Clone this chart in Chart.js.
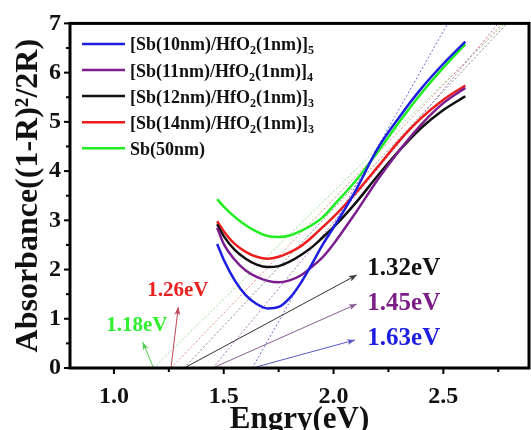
<!DOCTYPE html>
<html>
<head>
<meta charset="utf-8">
<script src="https://cdn.jsdelivr.net/npm/chart.js@4"></script>
<style>
  html, body { margin: 0; padding: 0; background: #fff; }
  #wrap { width: 531px; height: 430px; }
</style>
</head>
<body>
<div id="wrap"><canvas id="chart"></canvas></div>
<script>
// photon energy (eV) shared by all spectra
const energy = [1.47, 1.5, 1.55, 1.6, 1.65, 1.7, 1.75, 1.8, 1.85, 1.9, 1.95, 2.0, 2.1, 2.2, 2.3, 2.4, 2.5, 2.6];

// Kubelka-Munk absorbance (1-R)^2/2R
const sb10 = [2.52, 2.2, 1.78, 1.48, 1.3, 1.21, 1.24, 1.42, 1.72, 2.1, 2.5, 2.85, 3.6, 4.45, 5.1, 5.68, 6.18, 6.63];
const sb11 = [2.85, 2.52, 2.2, 1.98, 1.85, 1.77, 1.74, 1.78, 1.88, 2.05, 2.25, 2.52, 3.15, 3.82, 4.42, 4.95, 5.38, 5.69];
const sb12 = [2.92, 2.68, 2.4, 2.22, 2.1, 2.05, 2.07, 2.16, 2.29, 2.45, 2.65, 2.86, 3.35, 3.9, 4.42, 4.88, 5.24, 5.52];
const sb14 = [2.98, 2.78, 2.52, 2.36, 2.26, 2.22, 2.26, 2.35, 2.47, 2.65, 2.86, 3.07, 3.55, 4.08, 4.62, 5.08, 5.45, 5.74];
const sb50 = [3.43, 3.28, 3.07, 2.9, 2.77, 2.68, 2.66, 2.69, 2.78, 2.9, 3.06, 3.3, 3.8, 4.38, 5.0, 5.58, 6.1, 6.58];

const seriesNames = [
  '[Sb(10nm)/HfO_2(1nm)]_5',
  '[Sb(11nm)/HfO_2(1nm)]_4',
  '[Sb(12nm)/HfO_2(1nm)]_3',
  '[Sb(14nm)/HfO_2(1nm)]_3',
  'Sb(50nm)'
];
const seriesColors = ['#1e1ee0', '#7b1f8e', '#111111', '#ee1d1d', '#20ee20'];

// band gaps from linear extrapolation, and where each fit line leaves the top of the plot
const gaps      = [1.63, 1.45, 1.32, 1.26, 1.18];
const fitTopX   = [2.52, 2.75, 2.79, 2.77, 2.78];
const fitColors = ['#6a6ad4', '#a878b8', '#8a8a8a', '#e88a8a', '#90e090'];

// arrow tips and label anchors (data units)
const arrowTipX = [2.098, 2.106, 2.106, 1.293, 1.131];
const arrowTipY = [0.57, 1.30, 1.89, 1.24, 0.53];
const arrowColors = ['#5a5ac8', '#8a5c94', '#333333', '#c04858', '#55cc55'];
const labelX = [2.32, 2.32, 2.32, 1.291, 1.104];
const labelY = [0.59, 1.31, 2.02, 1.57, 0.86];
const labelColors = ['#1e1ee0', '#7b1f86', '#111111', '#e82020', '#30ee30'];

const xTicks = [1.0, 1.5, 2.0, 2.5];
const xMinor = [1.25, 1.75, 2.25, 2.75];
const yTicks = [0, 1, 2, 3, 4, 5, 6, 7];
const yMinor = [0.5, 1.5, 2.5, 3.5, 4.5, 5.5, 6.5];

const SERIF = '"Liberation Serif", "Times New Roman", serif';

const datasets = [];
[sb10, sb11, sb12, sb14, sb50].forEach((s, i) => {
  datasets.push({
    label: seriesNames[i],
    data: energy.map((x, j) => ({ x, y: s[j] })),
    borderColor: seriesColors[i],
    borderWidth: 2.5,
    pointRadius: 0,
    cubicInterpolationMode: 'monotone',
    order: 1
  });
});
gaps.forEach((g, i) => {
  datasets.push({
    label: 'fit' + i,
    data: [{ x: g, y: 0 }, { x: fitTopX[i], y: 7 }],
    borderColor: fitColors[i],
    borderWidth: 1,
    borderDash: [2, 2],
    pointRadius: 0,
    order: 3
  });
  datasets.push({
    label: 'arrow' + i,
    data: [{ x: g, y: 0 }, { x: arrowTipX[i], y: arrowTipY[i] }],
    borderColor: arrowColors[i],
    borderWidth: 1,
    pointRadius: 0,
    order: 2
  });
});

// thick frame plus outward tick marks
const framePlugin = {
  id: 'frame',
  afterDraw(chart) {
    const { ctx, chartArea: a, scales: { x, y } } = chart;
    ctx.save();
    ctx.strokeStyle = '#000';
    ctx.lineWidth = 2;
    const tick = (x1, y1, x2, y2) => { ctx.beginPath(); ctx.moveTo(x1, y1); ctx.lineTo(x2, y2); ctx.stroke(); };
    xTicks.forEach(v => { const p = x.getPixelForValue(v); tick(p, a.bottom, p, a.bottom + 6); });
    xMinor.forEach(v => { const p = x.getPixelForValue(v); tick(p, a.bottom, p, a.bottom + 4); });
    yTicks.forEach(v => { const p = y.getPixelForValue(v); tick(a.left, p, a.left - 6, p); });
    yMinor.forEach(v => { const p = y.getPixelForValue(v); tick(a.left, p, a.left - 4, p); });
    ctx.lineWidth = 3;
    ctx.strokeRect(a.left, a.top, a.right - a.left, a.bottom - a.top);
    ctx.restore();
  }
};

// arrowheads and band-gap labels
const gapPlugin = {
  id: 'gapLabels',
  afterDatasetsDraw(chart) {
    const { ctx, scales: { x, y } } = chart;
    ctx.save();
    gaps.forEach((g, i) => {
      const x0 = x.getPixelForValue(g), y0 = y.getPixelForValue(0);
      const x1 = x.getPixelForValue(arrowTipX[i]), y1 = y.getPixelForValue(arrowTipY[i]);
      const ang = Math.atan2(y1 - y0, x1 - x0);
      ctx.save();
      ctx.translate(x1, y1);
      ctx.rotate(ang);
      ctx.fillStyle = arrowColors[i];
      ctx.beginPath();
      ctx.moveTo(0, 0);
      ctx.lineTo(-8, -3);
      ctx.lineTo(-6, 0);
      ctx.lineTo(-8, 3);
      ctx.closePath();
      ctx.fill();
      ctx.restore();

      const size = i < 3 ? 25 : 21;
      ctx.font = `bold ${size}px ${SERIF}`;
      ctx.fillStyle = labelColors[i];
      ctx.textAlign = 'center';
      ctx.textBaseline = 'middle';
      ctx.fillText(g.toFixed(2) + 'eV', x.getPixelForValue(labelX[i]), y.getPixelForValue(labelY[i]));
    });
    ctx.restore();
  }
};

// legend with subscripted formula text
const legendPlugin = {
  id: 'subLegend',
  afterDraw(chart) {
    const { ctx, chartArea: a } = chart;
    ctx.save();
    seriesNames.forEach((name, i) => {
      const cy = a.top + 20.5 + i * 26.1;
      ctx.strokeStyle = seriesColors[i];
      ctx.lineWidth = 2.5;
      ctx.beginPath();
      ctx.moveTo(a.left + 12, cy);
      ctx.lineTo(a.left + 55, cy);
      ctx.stroke();

      let tx = a.left + 60;
      ctx.fillStyle = '#111';
      ctx.textBaseline = 'alphabetic';
      ctx.textAlign = 'left';
      name.split(/_(\d)/).forEach((part, k) => {
        if (!part) return;
        const sub = k % 2 === 1;
        ctx.font = sub ? `bold 12px ${SERIF}` : `bold 18px ${SERIF}`;
        ctx.fillText(part, tx, cy + (sub ? 10.5 : 6.5));
        tx += ctx.measureText(part).width;
      });
    });
    ctx.restore();
  }
};

new Chart(document.getElementById('chart'), {
  type: 'line',
  data: { datasets },
  options: {
    responsive: true,
    maintainAspectRatio: false,
    animation: false,
    layout: { padding: { top: 23, right: 2, left: 0, bottom: 0 } },
    plugins: {
      legend: { display: false },
      tooltip: { enabled: false }
    },
    scales: {
      x: {
        type: 'linear',
        min: 0.8,
        max: 2.89,
        afterBuildTicks: s => { s.ticks = xTicks.map(v => ({ value: v })); },
        afterFit: s => { s.height = 62; },
        grid: { display: false, drawTicks: false },
        border: { display: false },
        ticks: {
          padding: 14,
          color: '#111',
          font: { family: SERIF, size: 24, weight: 'bold' },
          callback: v => v.toFixed(1)
        },
        title: {
          display: true,
          text: 'Engry(eV)',
          color: '#111',
          font: { family: SERIF, size: 31, weight: 'bold' },
          padding: { top: 0, bottom: -9 }
        }
      },
      y: {
        min: 0,
        max: 7,
        afterBuildTicks: s => { s.ticks = yTicks.map(v => ({ value: v })); },
        afterFit: s => { s.width = 70; },
        grid: { display: false, drawTicks: false },
        border: { display: false },
        ticks: {
          padding: 9,
          color: '#111',
          font: { family: SERIF, size: 24, weight: 'bold' }
        },
        title: {
          display: true,
          text: 'Absorbance((1-R)²/2R)',
          color: '#111',
          font: { family: SERIF, size: 32, weight: 'bold' },
          padding: { top: 10, bottom: 0 }
        }
      }
    }
  },
  plugins: [framePlugin, gapPlugin, legendPlugin]
});
</script>
</body>
</html>
